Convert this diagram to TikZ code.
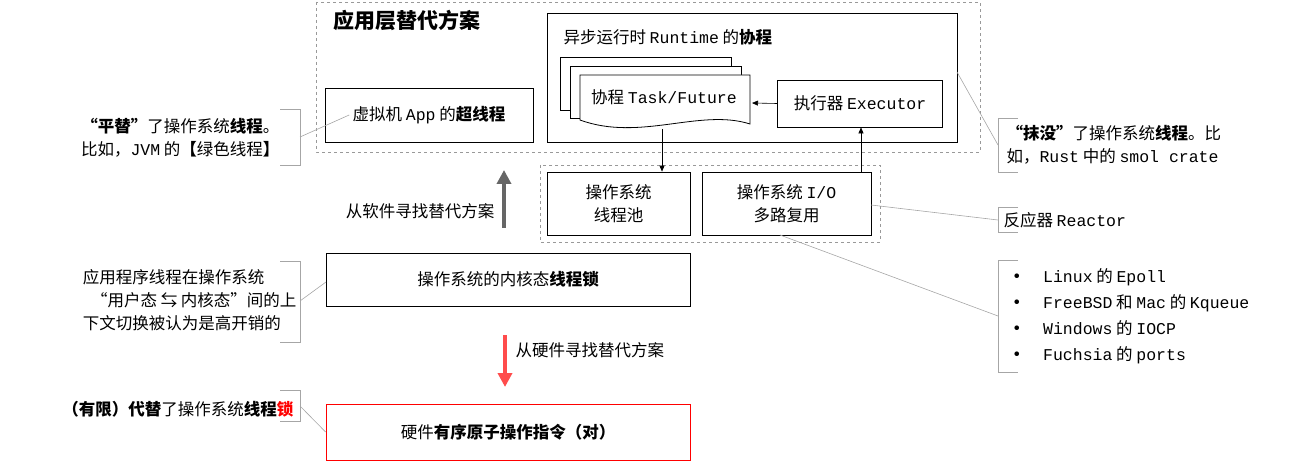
\documentclass[tikz,border=0pt]{standalone}
\usepackage{fontspec}
\setmainfont{Noto Sans CJK SC}
\newfontfamily\M{Liberation Mono}
\usetikzlibrary{arrows.meta}
\begin{document}
\begin{tikzpicture}[x=1pt,y=-1pt,
  box/.style={draw,line width=0.8pt,fill=white},
  dbox/.style={draw=gray!80,dashed,line width=0.8pt},
  txt/.style={font=\fontsize{16.5}{23}\selectfont,align=center},
  call/.style={draw=gray!70,line width=0.6pt},
  arr/.style={-{Triangle[length=6pt,width=5pt]},line width=0.6pt}]
\useasboundingbox (0,0) rectangle (1290,462);
% outer dashed
\draw[dbox] (316,2) rectangle (980,152);
\node[font=\fontsize{21}{24}\selectfont\bfseries,anchor=west] (title) at (330,20) {应用层替代方案};
\draw[box] (547,13) rectangle (957,142);
\node[txt,anchor=west] (rt) at (560,37) {异步运行时 {\M Runtime} 的\textbf{协程}};
\draw[box] (325,88) rectangle (533,142);
\node[txt] (vm) at (429,115) {虚拟机 {\M App} 的\textbf{超线程}};
% docs
\draw[box] (560,57) -- (731,57) -- (731,110) -- (560,110) -- cycle;
\draw[box] (570,66) -- (741,66) -- (741,118) -- (570,118) -- cycle;
\draw[box] (580,75) -- (750,75) -- (750,124) .. controls (700,108) and (640,142) .. (580,120) -- cycle;
\node[txt] (task) at (664,97) {协程 {\M Task/Future}};
\node[box,txt,minimum width=165pt,minimum height=47pt] (exe) at (860,103.5) {执行器 {\M Executor}};
\draw[arr] (exe.west) -- (752,103);
% lower dashed
\draw[dbox] (540,165) rectangle (880,242);
\node[box,txt,minimum width=143pt,minimum height=63pt] (pool) at (618.5,203.5) {操作系统\\线程池};
\node[box,txt,minimum width=169pt,minimum height=63pt] (io) at (786.5,203.5) {操作系统 {\M I/O}\\多路复用};
\coordinate (tb) at (662,129);
\coordinate (eb) at (861,172);
\draw[arr] (tb) -- (tb |- pool.north);
\draw[arr] (eb) -- (eb |- exe.south);
% grey arrow
\draw[-{Triangle[length=14pt,width=14pt]},line width=4pt,gray!80!black] (504,228) -- (504,170);
\node[txt,anchor=east] (sw) at (498,211) {从软件寻找替代方案};
\node[box,txt,minimum width=364pt,minimum height=53pt] (kern) at (508,279.5) {操作系统的内核态\textbf{线程锁}};
\draw[-{Triangle[length=14pt,width=14pt]},line width=4pt,red!70] (505,335) -- (505,387);
\node[txt,anchor=west] (hw) at (512,350) {从硬件寻找替代方案};
\node[box,draw=red,txt,minimum width=364pt,minimum height=56pt] (hard) at (508,432) {硬件\textbf{有序原子操作指令（对）}};
% left callouts
\node[txt,anchor=east,align=right] (c1) at (283,138) {\textbf{“平替”}了操作系统\textbf{线程}。\\比如，{\M JVM} 的\textbf{【}绿色线程\textbf{】}};
\draw[call] (280,109) -- (300,109) -- (300,165) -- (280,165);
\draw[call] (300,137) -- (vm.west);
\node[txt,anchor=east,align=left] (c2) at (300,300) {应用程序线程在操作系统\\\hspace{0.5em}“用户态 ⇆ 内核态”间的上\\下文切换被认为是高开销的};
\draw[call] (280,261) -- (300,261) -- (300,342) -- (280,342);
\draw[call] (300,301) -- (326,282);
\node[txt,anchor=east] (c3) at (297,409) {\textbf{（有限）代替}了操作系统\textbf{线程}\textcolor{red}{\textbf{锁}}};
\draw[call] (280,390) -- (300,390) -- (300,421) -- (280,421);
\draw[call] (300,406) -- (hard.west);
% right callouts
\node[txt,anchor=west,align=left] (r1) at (1003,145) {\textbf{“抹没”}了操作系统\textbf{线程}。比\\如，{\M Rust} 中的 {\M smol crate}};
\draw[call] (1018,118) -- (998,118) -- (998,172) -- (1018,172);
\draw[call] (957,72) -- (998,145);
\node[txt,anchor=west] (r2) at (1000,220) {反应器 {\M Reactor}};
\draw[call] (1018,207) -- (998,207) -- (998,232) -- (1018,232);
\draw[call] (871,205) -- (998,220);
\node[txt,anchor=west,align=left,font=\fontsize{16.5}{26}\selectfont] (r3) at (1005,316) {\textbf{•}\hspace{1.1em}{\M Linux} 的 {\M Epoll}\\\textbf{•}\hspace{1.1em}{\M FreeBSD} 和 {\M Mac} 的 {\M Kqueue}\\\textbf{•}\hspace{1.1em}{\M Windows} 的 {\M IOCP}\\\textbf{•}\hspace{1.1em}{\M Fuchsia} 的 {\M ports}};
\draw[call] (1018,260) -- (998,260) -- (998,372) -- (1018,372);
\draw[call] (780,235) -- (998,316);
\end{tikzpicture}
\end{document}
